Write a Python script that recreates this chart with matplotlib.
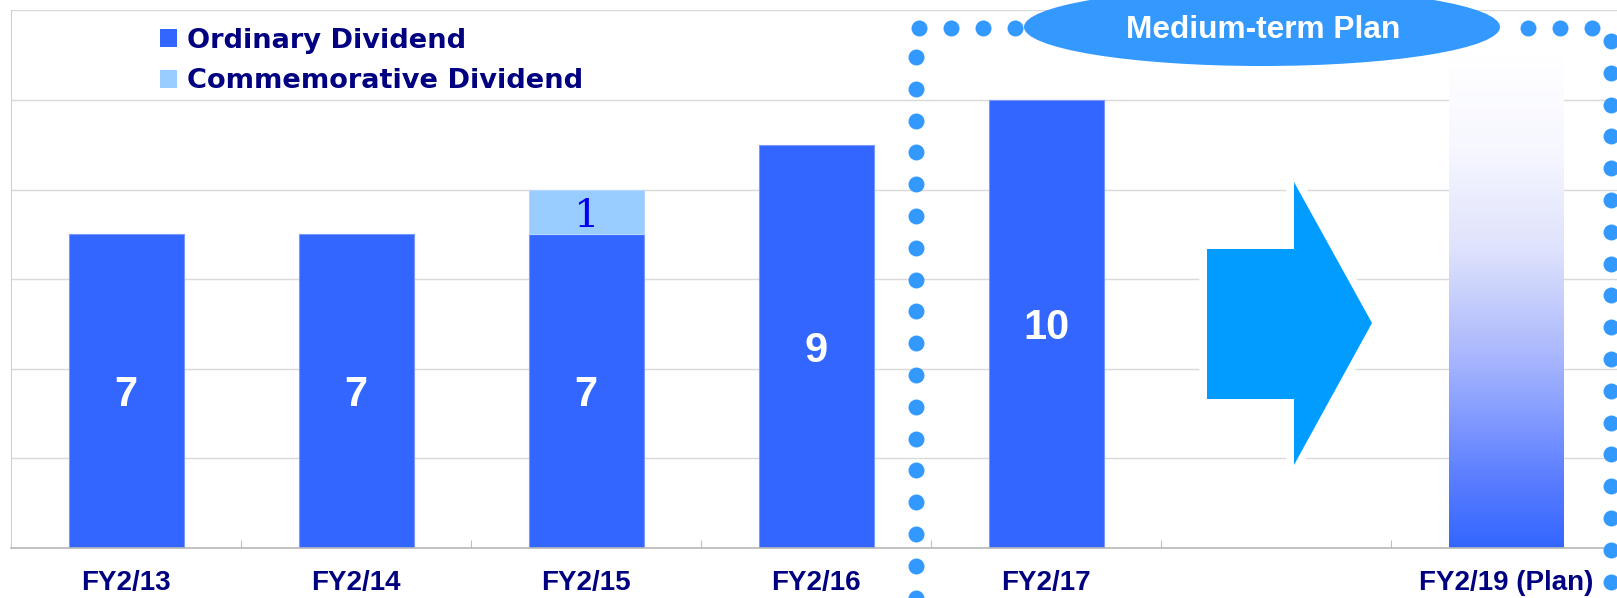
import numpy as np
import matplotlib
matplotlib.use("Agg")
import matplotlib.pyplot as plt
from matplotlib.patches import Ellipse, Polygon, Patch
from matplotlib.colors import LinearSegmentedColormap

# ---------------- data ----------------
categories = ["FY2/13", "FY2/14", "FY2/15", "FY2/16", "FY2/17", "", "FY2/19 (Plan)"]
ordinary = [7, 7, 7, 9, 10, 0, 0]
commemorative = [0, 0, 1, 0, 0, 0, 0]
plan = [0, 0, 0, 0, 0, 0, 11]
series_names = ["Ordinary Dividend", "Commemorative Dividend"]
banner_text = "Medium-term Plan"

ORD_COLOR = "#3366FF"
COM_COLOR = "#99CCFF"

# ---------------- figure ----------------
W, H = 1617, 598
fig = plt.figure(figsize=(W / 100, H / 100), dpi=100)
fig.patch.set_facecolor("white")
ax = fig.add_axes([11 / W, (H - 548) / H, 1610 / W, (548 - 10.4) / H])

x = np.arange(len(categories))
ax.set_xlim(-0.5, len(categories) - 0.5)
ax.set_ylim(0, 12)
ax.set_yticks(np.arange(0, 13, 2))
ax.yaxis.grid(True, color="#d9d9d9", lw=1.0)
ax.set_axisbelow(True)
ax.tick_params(axis="y", length=0, labelleft=False)

ax.set_xticks(x)
ax.set_xticklabels(categories, fontfamily="Liberation Sans", fontweight="bold",
                   fontsize=20, color="#000080")
ax.tick_params(axis="x", which="major", length=0, pad=16)
ax.set_xticks(x[:-1] + 0.5, minor=True)
ax.tick_params(axis="x", which="minor", direction="in", length=6,
               color="#bfbfbf", width=0.8)
for s in ["top", "right"]:
    ax.spines[s].set_visible(False)
ax.spines["left"].set_color("#d0d0d0")
ax.spines["bottom"].set_color("#b8b8b8")
ax.spines["bottom"].set_linewidth(1.2)

bw = 0.5
ord_c = ax.bar(x, ordinary, bw, color=ORD_COLOR, edgecolor="#7b98ff", lw=0.8,
               label=series_names[0], zorder=2)
com_c = ax.bar(x, commemorative, bw, bottom=ordinary, color=COM_COLOR,
               edgecolor="#b5d8ff", lw=0.8, label=series_names[1], zorder=2)
for cont in (ord_c, com_c):
    for p in cont.patches:
        if p.get_height() == 0:
            p.set_visible(False)

plan_c = ax.bar(x, plan, bw, color="none", lw=0, zorder=2)
grad_cmap = LinearSegmentedColormap.from_list(
    "plan", [(0.0, (51/255, 102/255, 1.0)),
             (1.5/11, (90/255, 125/255, 1.0)),
             (2.9/11, (130/255, 155/255, 1.0)),
             (4.4/11, (172/255, 185/255, 253/255)),
             (6.65/11, (222/255, 226/255, 252/255)),
             (8.9/11, (246/255, 247/255, 1.0)),
             (1.0, (1.0, 1.0, 1.0))])
for p in plan_c.patches:
    h = p.get_height()
    if h > 0:
        grad = np.linspace(0, 1, 256).reshape(-1, 1)
        ax.imshow(grad, cmap=grad_cmap, origin="lower", aspect="auto",
                  extent=(p.get_x(), p.get_x() + p.get_width(), 0, h), zorder=2)
ax.set_xlim(-0.5, len(categories) - 0.5)
ax.set_ylim(0, 12)

ann1 = ax.bar_label(ord_c, labels=[str(v) if v else "" for v in ordinary],
                    label_type="center", color="white", fontsize=30,
                    fontweight="bold", fontfamily="Liberation Sans")
ann2 = ax.bar_label(com_c, labels=[str(v) if v else "" for v in commemorative],
                    label_type="center", color="#0000EE", fontsize=29,
                    fontfamily="DejaVu Serif")
for a in list(ann1) + list(ann2):
    a.xyann = (0, -3)

handles = [Patch(facecolor=ORD_COLOR, edgecolor="none"),
           Patch(facecolor=COM_COLOR, edgecolor="none")]
leg = ax.legend(handles=handles, labels=series_names, loc="upper left",
                bbox_to_anchor=(160 / W, 1 - 28 / H), bbox_transform=fig.transFigure,
                frameon=False, borderpad=0, borderaxespad=0,
                handlelength=0.64, handleheight=0.64, handletextpad=0.34,
                labelspacing=0.52, prop={"family": "DejaVu Sans", "weight": "bold",
                                         "size": 19.6})
for t in leg.get_texts():
    t.set_color("#000080")

# ---------------- decorations (pixel helpers) ----------------
inv = ax.transData.inverted()


def px2data(px, py):
    return inv.transform((px, H - py))


# arrow
arrow_px = [(1207, 249), (1294, 249), (1294, 182), (1372, 323),
            (1294, 465), (1294, 399), (1207, 399)]
arrow_pts = [px2data(a, b) for a, b in arrow_px]
ax.add_patch(Polygon(arrow_pts, closed=True, facecolor="white", edgecolor="white",
                     lw=11, joinstyle="round", zorder=3))
ax.add_patch(Polygon(arrow_pts, closed=True, facecolor="#009CFF", edgecolor="none",
                     zorder=3.5))

# dotted frame
dot_pts = []
for py in np.arange(57, 612, 31.8):
    dot_pts.append((916, py))
for pxx in list(np.arange(919, 1016, 32)) + list(np.arange(1528, 1600, 32)):
    dot_pts.append((pxx, 28))
for py in np.arange(41, 612, 31.8):
    dot_pts.append((1611, py))
dd = np.array([px2data(a, b) for a, b in dot_pts])
ax.plot(dd[:, 0], dd[:, 1], "o", ms=11.5, color="#3399FF", mec="none",
        clip_on=False, zorder=5)

# banner ellipse
c = px2data(1262, 27)
l = px2data(1262 - 238, 27)
r = px2data(1262 + 238, 27)
t = px2data(1262, 27 - 39)
b = px2data(1262, 27 + 39)
ax.add_patch(Ellipse(c, width=r[0] - l[0], height=t[1] - b[1], facecolor="#3399FF",
                     edgecolor="none", clip_on=False, zorder=6))
tb = px2data(1263, 38.3)
ax.text(tb[0], tb[1], banner_text, ha="center", va="baseline", color="white",
        fontsize=22.8, fontweight="bold", fontfamily="Liberation Sans", zorder=7,
        clip_on=False)

fig.savefig("out.png", dpi=100, facecolor="white")
